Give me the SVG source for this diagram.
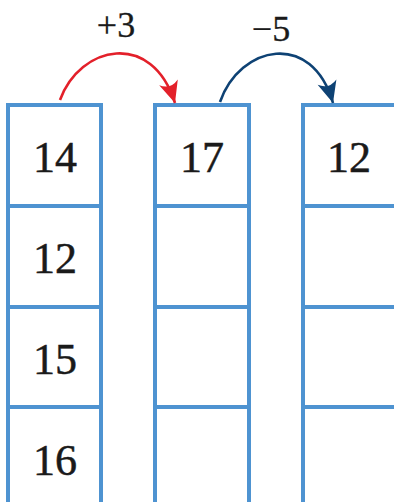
<svg xmlns="http://www.w3.org/2000/svg" width="394" height="502" viewBox="0 0 394 502">
<style>
.cell{fill:#fff;stroke:#4e93d1;stroke-width:4}
.num{font-family:"Liberation Serif","Times New Roman",serif;font-size:44px;fill:#1a1a1a;stroke:#1a1a1a;stroke-width:0.5;text-anchor:middle}
.lbl{font-family:"Liberation Serif","Times New Roman",serif;font-size:36px;fill:#1a1a1a;stroke:#1a1a1a;stroke-width:0.3;text-anchor:middle}
.arc{fill:none;stroke-width:2.6}
</style>
<defs>
<marker id="ahRed" markerUnits="userSpaceOnUse" markerWidth="26" markerHeight="26" viewBox="-22 -11 24 22" refX="0" refY="0" orient="auto">
<path d="M0,0 L-20,-9 Q-13,0 -20,9 Z" fill="#e3202a"/>
</marker>
<marker id="ahBlue" markerUnits="userSpaceOnUse" markerWidth="26" markerHeight="26" viewBox="-22 -11 24 22" refX="0" refY="0" orient="auto">
<path d="M0,0 L-20,-9 Q-13,0 -20,9 Z" fill="#0e4274"/>
</marker>
</defs>
<g id="col1">
<g id="c1r1"><rect class="cell" x="8" y="105" width="93" height="101"/><text class="num" x="55" y="172">14</text></g>
<g id="c1r2"><rect class="cell" x="8" y="206" width="93" height="101"/><text class="num" x="55" y="273">12</text></g>
<g id="c1r3"><rect class="cell" x="8" y="307" width="93" height="100"/><text class="num" x="55" y="374">15</text></g>
<g id="c1r4"><rect class="cell" x="8" y="407" width="93" height="101"/><text class="num" x="55" y="475">16</text></g>
</g>
<g id="col2">
<g id="c2r1"><rect class="cell" x="155" y="105" width="94" height="101"/><text class="num" x="202" y="172">17</text></g>
<g id="c2r2"><rect class="cell" x="155" y="206" width="94" height="101"/></g>
<g id="c2r3"><rect class="cell" x="155" y="307" width="94" height="100"/></g>
<g id="c2r4"><rect class="cell" x="155" y="407" width="94" height="101"/></g>
</g>
<g id="col3">
<g id="c3r1"><rect class="cell" x="303" y="105" width="93" height="101"/><text class="num" x="349" y="172">12</text></g>
<g id="c3r2"><rect class="cell" x="303" y="206" width="93" height="101"/></g>
<g id="c3r3"><rect class="cell" x="303" y="307" width="93" height="100"/></g>
<g id="c3r4"><rect class="cell" x="303" y="407" width="93" height="101"/></g>
</g>
<g id="connectors">
<path class="arc" stroke="#e3202a" d="M60,100 C80,45 152,30 175,103" marker-end="url(#ahRed)"/>
<text class="lbl" x="116" y="37">+3</text>
<path class="arc" stroke="#0e4274" d="M220,102 C240,45 312,30 333,103" marker-end="url(#ahBlue)"/>
<text class="lbl" x="271" y="41">−5</text>
</g>
</svg>
